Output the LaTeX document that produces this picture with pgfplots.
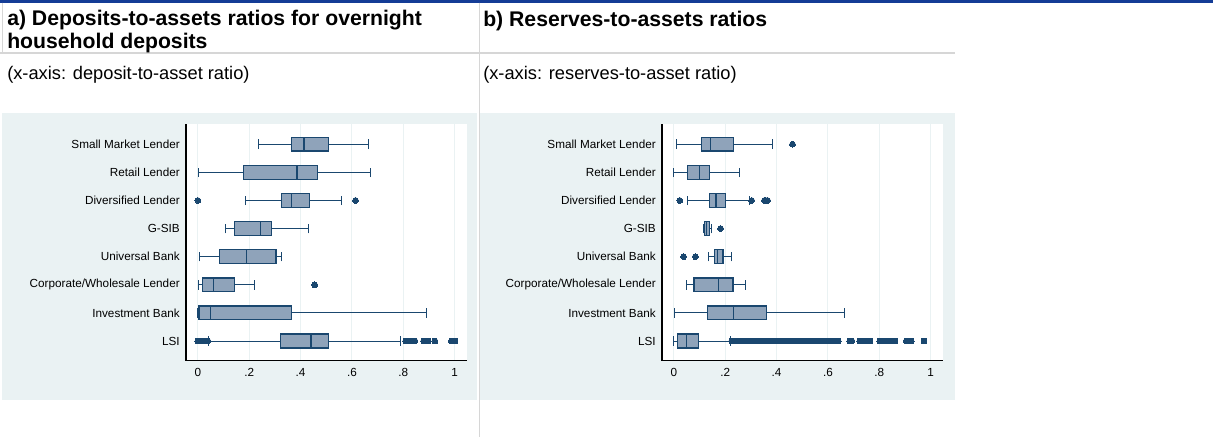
\documentclass[border=0pt]{standalone}
\usepackage{fontspec}
\setmainfont{Liberation Sans}
\usepackage{pgfplots}
\pgfplotsset{compat=1.18}
\usepgfplotslibrary{statistics}

\definecolor{stnavy}{RGB}{26,71,111}
\definecolor{boxfill}{RGB}{143,163,186}
\definecolor{bluishgray}{RGB}{234,242,243}
\definecolor{sepgray}{RGB}{214,214,214}
\definecolor{topblue}{RGB}{20,60,150}

\pgfplotsset{
  bankbox/.style={
    scale only axis, width=210.75pt, height=177.75pt, anchor=south west,
    xmin=-0.046, xmax=1.048, ymin=0.29, ymax=8.72,
    axis background/.style={fill=white},
    axis x line*=bottom, axis y line*=left,
    x axis line style={-, black, line width=0.75pt},
    y axis line style={-, black, line width=1.1pt},
    xtick={0,0.2,0.4,0.6,0.8,1}, xticklabels={0,.2,.4,.6,.8,1},
    ytick={1,2,3,4,5,6,7,8},
    yticklabels={LSI,Investment Bank,Corporate/Wholesale Lender,Universal Bank,G-SIB,Diversified Lender,Retail Lender,Small Market Lender},
    major tick length=0pt,
    xmajorgrids, grid style={bluishgray, line width=0.75pt},
    tick label style={font=\fontsize{8.8}{10}\selectfont},
    xticklabel style={inner sep=0pt, yshift=-5.5pt},
    yticklabel style={inner sep=0pt, xshift=-4.5pt},
    boxplot/draw direction=x,
    boxplot/box extend=0.49, boxplot/whisker extend=0.34,
    boxplot/every box/.style={draw=stnavy, fill=boxfill, line width=1pt},
    boxplot/every whisker/.style={draw=stnavy, line width=0.75pt},
    boxplot/every median/.style={draw=stnavy, line width=1pt},
  },
  bx/.style={stnavy, mark=*, mark size=2.2pt, mark options={fill=stnavy, draw=stnavy, line width=0pt}},
}

\begin{document}
\begin{tikzpicture}
\path[use as bounding box, fill=white] (0,0) rectangle (909.75pt,328.5pt);

% frame lines
\fill[topblue] (0,326.6pt) rectangle (909.75pt,328.5pt);
\draw[sepgray, line width=0.75pt] (359.25pt,326.6pt) -- (359.25pt,0.75pt);
\draw[sepgray, line width=1.5pt] (0,288.75pt) -- (716.25pt,288.75pt);
\draw[sepgray, line width=0.75pt] (1.5pt,326.6pt) -- (1.5pt,288.75pt);

% headings
\node[anchor=base west, inner sep=0pt, font=\fontsize{15.9}{18}\selectfont\bfseries] at (5.25pt,309.2pt) {a) Deposits-to-assets ratios for overnight};
\node[anchor=base west, inner sep=0pt, font=\fontsize{15.9}{18}\selectfont\bfseries] at (5.25pt,292pt) {household deposits};
\node[anchor=base west, inner sep=0pt, font=\fontsize{15.9}{18}\selectfont\bfseries] at (362.25pt,308.5pt) {b) Reserves-to-assets ratios};
\node[anchor=base west, inner sep=0pt, font=\fontsize{13.7}{15}\selectfont] at (5.25pt,268.5pt) {(x-axis: deposit-to-asset ratio)};
\node[anchor=base west, inner sep=0pt, font=\fontsize{13.7}{15}\selectfont] at (362.25pt,268.5pt) {(x-axis: reserves-to-asset ratio)};

% graph regions
\fill[bluishgray] (1.5pt,28.5pt) rectangle (357.75pt,243.75pt);
\fill[bluishgray] (360pt,28.5pt) rectangle (716.25pt,243.75pt);

% a) deposits-to-assets
\begin{axis}[bankbox, at={(139.5pt,57.75pt)}]
\addplot[bx, boxplot prepared={draw position=8, lower whisker=0.235, lower quartile=0.366, median=0.413, upper quartile=0.509, upper whisker=0.665}] coordinates {};
\addplot[bx, boxplot prepared={draw position=7, lower whisker=0.001, lower quartile=0.179, median=0.386, upper quartile=0.466, upper whisker=0.674}] coordinates {};
\addplot[bx, boxplot prepared={draw position=6, lower whisker=0.187, lower quartile=0.327, median=0.364, upper quartile=0.434, upper whisker=0.561}] table[row sep=\\, y index=0] {v\\ 0.0\\ 0.614\\};
\addplot[bx, boxplot prepared={draw position=5, lower whisker=0.107, lower quartile=0.144, median=0.244, upper quartile=0.288, upper whisker=0.431}] coordinates {};
\addplot[bx, boxplot prepared={draw position=4, lower whisker=0.005, lower quartile=0.084, median=0.190, upper quartile=0.305, upper whisker=0.325}] coordinates {};
\addplot[bx, boxplot prepared={draw position=3, lower whisker=0.001, lower quartile=0.019, median=0.062, upper quartile=0.144, upper whisker=0.222}] table[row sep=\\, y index=0] {v\\ 0.455\\};
\addplot[bx, boxplot prepared={draw position=2, lower whisker=0.0, lower quartile=0.004, median=0.049, upper quartile=0.366, upper whisker=0.892}] coordinates {};
\addplot[bx, boxplot prepared={draw position=1, lower whisker=0.041, lower quartile=0.323, median=0.441, upper quartile=0.509, upper whisker=0.789}] table[row sep=\\, y index=0] {v\\ 0.0\\ 0.005\\ 0.01\\ 0.015\\ 0.02\\ 0.025\\ 0.03\\ 0.035\\ 0.039\\ 0.809\\ 0.815\\ 0.821\\ 0.827\\ 0.833\\ 0.839\\ 0.845\\ 0.879\\ 0.885\\ 0.891\\ 0.897\\ 0.923\\ 0.987\\ 0.994\\ 1.001\\};
\end{axis}

% b) reserves-to-assets
\begin{axis}[bankbox, at={(496.5pt,57.75pt)}]
\addplot[bx, boxplot prepared={draw position=8, lower whisker=0.009, lower quartile=0.108, median=0.143, upper quartile=0.232, upper whisker=0.384}] table[row sep=\\, y index=0] {v\\ 0.462\\};
\addplot[bx, boxplot prepared={draw position=7, lower whisker=0.0, lower quartile=0.053, median=0.101, upper quartile=0.139, upper whisker=0.256}] coordinates {};
\addplot[bx, boxplot prepared={draw position=6, lower whisker=0.052, lower quartile=0.139, median=0.164, upper quartile=0.201, upper whisker=0.295}] table[row sep=\\, y index=0] {v\\ 0.023\\ 0.303\\ 0.353\\ 0.358\\ 0.365\\};
\addplot[bx, boxplot prepared={draw position=5, lower whisker=0.117, lower quartile=0.119, median=0.127, upper quartile=0.139, upper whisker=0.148}] table[row sep=\\, y index=0] {v\\ 0.182\\};
\addplot[bx, boxplot prepared={draw position=4, lower whisker=0.135, lower quartile=0.158, median=0.171, upper quartile=0.191, upper whisker=0.223}] table[row sep=\\, y index=0] {v\\ 0.038\\ 0.084\\};
\addplot[bx, boxplot prepared={draw position=3, lower whisker=0.048, lower quartile=0.079, median=0.174, upper quartile=0.230, upper whisker=0.279}] coordinates {};
\addplot[bx, boxplot prepared={draw position=2, lower whisker=0.004, lower quartile=0.130, median=0.232, upper quartile=0.361, upper whisker=0.666}] coordinates {};
\addplot[bx, boxplot prepared={draw position=1, lower whisker=0.0, lower quartile=0.014, median=0.049, upper quartile=0.096, upper whisker=0.219}] table[row sep=\\, y index=0] {v\\
0.225\\ 0.23\\ 0.235\\ 0.24\\ 0.245\\ 0.25\\ 0.255\\ 0.26\\ 0.265\\ 0.27\\ 0.275\\ 0.28\\ 0.285\\ 0.29\\ 0.295\\ 0.3\\ 0.305\\ 0.31\\ 0.315\\ 0.32\\ 0.325\\ 0.33\\ 0.335\\ 0.34\\ 0.345\\ 0.35\\ 0.355\\ 0.36\\ 0.365\\ 0.37\\ 0.375\\ 0.38\\ 0.385\\ 0.39\\ 0.395\\ 0.4\\ 0.405\\ 0.41\\ 0.415\\ 0.42\\ 0.425\\ 0.43\\ 0.435\\ 0.44\\ 0.445\\ 0.45\\ 0.455\\ 0.46\\ 0.465\\ 0.47\\ 0.475\\ 0.48\\ 0.485\\ 0.49\\ 0.495\\ 0.5\\ 0.505\\ 0.51\\ 0.515\\ 0.52\\ 0.525\\ 0.53\\ 0.535\\ 0.54\\ 0.545\\ 0.55\\ 0.555\\ 0.56\\ 0.565\\ 0.57\\ 0.575\\ 0.58\\ 0.585\\ 0.59\\ 0.595\\ 0.6\\ 0.605\\ 0.61\\ 0.615\\ 0.62\\ 0.625\\ 0.63\\ 0.635\\ 0.64\\
0.685\\ 0.69\\ 0.693\\ 0.724\\ 0.73\\ 0.736\\ 0.742\\ 0.748\\ 0.754\\ 0.76\\ 0.764\\ 0.802\\ 0.808\\ 0.814\\ 0.82\\ 0.826\\ 0.832\\ 0.838\\ 0.844\\ 0.85\\ 0.856\\ 0.861\\ 0.905\\ 0.91\\ 0.915\\ 0.92\\ 0.924\\ 0.974\\};
\end{axis}
\end{tikzpicture}
\end{document}
